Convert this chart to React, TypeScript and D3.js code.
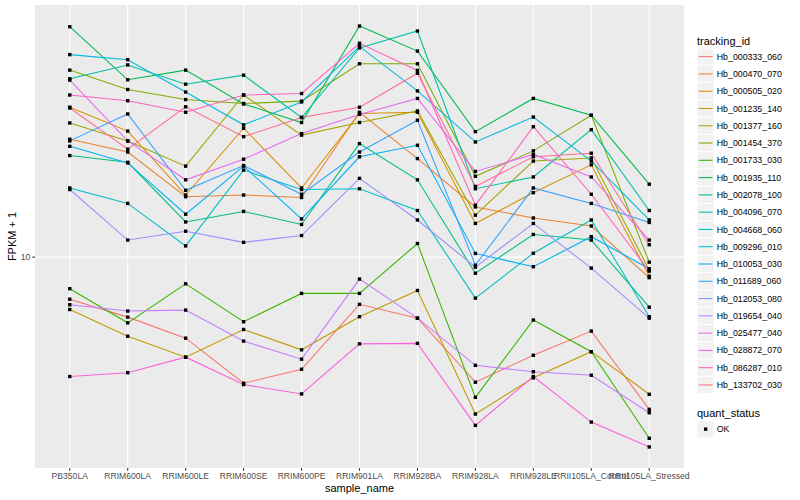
import React from "react";
import * as d3 from "d3";

const samples = ["PB350LA","RRIM600LA","RRIM600LE","RRIM600SE","RRIM600PE","RRIM901LA","RRIM928BA","RRIM928LA","RRIM928LE","RRII105LA_Control","RRII105LA_Stressed"];

const trackingIds = ["Hb_000333_060","Hb_000470_070","Hb_000505_020","Hb_001235_140","Hb_001377_160","Hb_001454_370","Hb_001733_030","Hb_001935_110","Hb_002078_100","Hb_004096_070","Hb_004668_060","Hb_009296_010","Hb_010053_030","Hb_011689_060","Hb_012053_080","Hb_019654_040","Hb_025477_040","Hb_028872_070","Hb_086287_010","Hb_133702_030"];

const palette = ["#F8766D","#EA8331","#D89000","#C09B00","#A3A500","#7CAE00","#39B600","#00BB4E","#00BF7D","#00C1A3","#00BFC4","#00BAE0","#00B0F6","#35A2FF","#9590FF","#C77CFF","#E76BF3","#FA62DB","#FF62BC","#FF6C91"];

// FPKM + 1 per sample, one array per tracking_id
const hb000333_060 = [7.24, 6.31, 5.37, 3.80, 4.23, 6.96, 6.26, 3.83, 4.71, 5.67, 3.11];
const hb000470_070 = [24.7, 22.4, 15.9, 16.1, 15.8, 30.4, 21.3, 14.7, 13.5, 12.7, 8.54];
const hb000505_020 = [31.6, 26.3, 16.1, 26.9, 17.0, 30.1, 30.4, 12.95, 16.4, 20.3, 8.64];
const hb001235_140 = [6.69, 5.45, 4.64, 5.74, 4.91, 6.33, 7.74, 3.00, 3.96, 4.84, 3.49];
const hb001377_160 = [28.0, 24.4, 20.1, 34.7, 25.5, 28.1, 30.7, 13.8, 20.9, 21.4, 9.05];
const hb001454_370 = [42.0, 36.2, 33.5, 32.5, 33.1, 44.1, 44.1, 18.6, 22.6, 29.7, 9.62];
const hb001733_030 = [7.85, 6.04, 8.15, 6.09, 7.57, 7.57, 11.1, 3.41, 6.17, 4.84, 2.49];
const hb001935_110 = [58.6, 39.0, 42.0, 32.4, 28.1, 58.9, 48.6, 26.2, 33.8, 29.7, 17.5];
const hb002078_100 = [21.8, 20.7, 13.1, 14.2, 12.85, 23.9, 18.1, 8.84, 11.9, 11.4, 6.81];
const hb004096_070 = [39.3, 43.7, 37.7, 40.4, 29.2, 49.8, 56.7, 16.9, 18.5, 26.6, 14.3];
const hb004668_060 = [17.0, 15.1, 10.9, 19.5, 16.8, 16.9, 14.3, 7.30, 10.3, 13.3, 6.33];
const hb009296_010 = [47.3, 45.5, 35.5, 27.6, 32.9, 50.4, 35.8, 24.2, 29.3, 20.9, 13.3];
const hb010053_030 = [23.4, 20.6, 13.9, 20.1, 13.4, 21.6, 23.6, 10.29, 9.29, 11.7, 9.15];
const hb011689_060 = [24.4, 30.0, 16.7, 20.2, 16.2, 22.4, 28.6, 9.40, 17.0, 15.1, 13.05];
const hb012053_080 = [16.8, 11.4, 12.2, 11.2, 11.8, 18.3, 13.3, 9.26, 12.95, 9.19, 6.26];
const hb019654_040 = [6.94, 6.61, 6.66, 5.25, 4.57, 8.45, 6.26, 4.36, 4.15, 4.04, 3.03];
const hb025477_040 = [38.9, 24.4, 18.1, 21.2, 25.8, 29.9, 33.8, 19.3, 22.0, 18.5, 11.4];
const hb028872_070 = [4.00, 4.12, 4.64, 3.76, 3.50, 5.14, 5.16, 2.75, 4.00, 2.82, 2.33];
const hb086287_010 = [34.7, 33.2, 30.4, 34.7, 35.1, 51.6, 41.9, 14.9, 27.2, 16.2, 8.98];
const hb133702_030 = [31.4, 22.9, 31.7, 25.2, 29.2, 31.6, 41.0, 17.2, 21.6, 22.2, 11.0];

const seriesValues = [hb000333_060, hb000470_070, hb000505_020, hb001235_140, hb001377_160, hb001454_370, hb001733_030, hb001935_110, hb002078_100, hb004096_070, hb004668_060, hb009296_010, hb010053_030, hb011689_060, hb012053_080, hb019654_040, hb025477_040, hb028872_070, hb086287_010, hb133702_030];

const yTicks = [10];
const quantStatus = ["OK"];

const W = 800, H = 500;
const panel = { left: 35, right: 684, top: 5, bottom: 468 };
const FONT = "'Liberation Sans', Arial, Helvetica, sans-serif";

export default function App() {
  const x = d3.scalePoint<string>().domain(samples).range([panel.left, panel.right]).padding(0.6);
  const all = seriesValues.flat();
  const lmin = Math.log10(d3.min(all) as number);
  const lmax = Math.log10(d3.max(all) as number);
  const pad = (lmax - lmin) * 0.05;
  const y = d3.scaleLog().domain([Math.pow(10, lmin - pad), Math.pow(10, lmax + pad)]).range([panel.bottom, panel.top]);

  const line = d3.line<number>().x((_, i) => x(samples[i]) as number).y(v => y(v));

  const keyH = 17.28;
  const legX = 697;
  const legTop = 48;

  return (
    <svg width={W} height={H} style={{ position: "absolute", left: 0, top: 0, background: "#fff" }} fontFamily={FONT}>
      <rect x={panel.left} y={panel.top} width={panel.right - panel.left} height={panel.bottom - panel.top} fill="#EBEBEB" />
      {yTicks.map(t => (
        <line key={"gy" + t} x1={panel.left} x2={panel.right} y1={y(t)} y2={y(t)} stroke="#fff" strokeWidth={1.07} />
      ))}
      {samples.map(s => (
        <line key={"gx" + s} x1={x(s)} x2={x(s)} y1={panel.top} y2={panel.bottom} stroke="#fff" strokeWidth={1.07} />
      ))}
      {seriesValues.map((vals, i) => (
        <path key={"l" + i} d={line(vals) as string} fill="none" stroke={palette[i]} strokeWidth={1.07} />
      ))}
      {seriesValues.map((vals, i) => vals.map((v, j) => (
        <rect key={"p" + i + "_" + j} x={(x(samples[j]) as number) - 1.7} y={y(v) - 1.7} width={3.4} height={3.4} fill="#000" />
      )))}
      {/* y axis */}
      {yTicks.map(t => (
        <g key={"ty" + t}>
          <line x1={panel.left - 2.75} x2={panel.left} y1={y(t)} y2={y(t)} stroke="#333" strokeWidth={1.07} />
          <text x={panel.left - 4.5} y={y(t)} dy="0.35em" textAnchor="end" fontSize={8.8} fill="#4D4D4D">{t}</text>
        </g>
      ))}
      {/* x axis */}
      {samples.map(s => (
        <g key={"tx" + s}>
          <line x1={x(s)} x2={x(s)} y1={panel.bottom} y2={panel.bottom + 2.75} stroke="#333" strokeWidth={1.07} />
          <text x={x(s)} y={panel.bottom + 11} textAnchor="middle" fontSize={8.6} fill="#4D4D4D">{s}</text>
        </g>
      ))}
      <text x={(panel.left + panel.right) / 2} y={492} textAnchor="middle" fontSize={11} fill="#000">sample_name</text>
      <text transform={`translate(16,${(panel.top + panel.bottom) / 2}) rotate(-90)`} textAnchor="middle" fontSize={11} fill="#000">FPKM + 1</text>

      {/* legend: tracking_id */}
      <text x={legX} y={44.5} fontSize={11} fill="#000">tracking_id</text>
      {trackingIds.map((id, i) => {
        const ty = legTop + i * keyH;
        return (
          <g key={"lg" + id}>
            <rect x={legX} y={ty} width={keyH} height={keyH} fill="#F2F2F2" stroke="#fff" strokeWidth={1} />
            <line x1={legX + 1.7} x2={legX + keyH - 1.7} y1={ty + keyH / 2} y2={ty + keyH / 2} stroke={palette[i]} strokeWidth={1.07} />
            <text x={legX + keyH + 2.5} y={ty + keyH / 2} dy="0.35em" fontSize={8.8} fill="#000">{id}</text>
          </g>
        );
      })}
      {/* legend: quant_status */}
      <text x={legX} y={416.5} fontSize={11} fill="#000">quant_status</text>
      {quantStatus.map((q, i) => {
        const ty = 420.5 + i * keyH;
        return (
          <g key={"qs" + q}>
            <rect x={legX} y={ty} width={keyH} height={keyH} fill="#F2F2F2" stroke="#fff" strokeWidth={1} />
            <rect x={legX + keyH / 2 - 1.7} y={ty + keyH / 2 - 1.7} width={3.4} height={3.4} fill="#000" />
            <text x={legX + keyH + 2.5} y={ty + keyH / 2} dy="0.35em" fontSize={8.8} fill="#000">{q}</text>
          </g>
        );
      })}
    </svg>
  );
}
